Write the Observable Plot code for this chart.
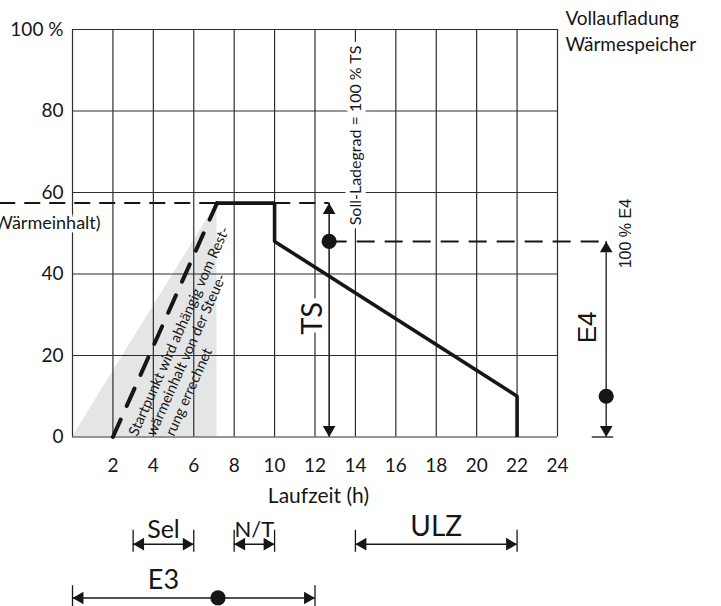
<!DOCTYPE html>
<html>
<head>
<meta charset="utf-8">
<script src="https://cdn.jsdelivr.net/npm/d3@7"></script>
<script src="https://cdn.jsdelivr.net/npm/@observablehq/plot@0.6"></script>
<style>
  body { margin: 0; background: #fff; }
  #chart svg { display: block; }
</style>
</head>
<body>
<div id="chart"></div>
<script>
// ---------- data ----------
const gridHours = [0, 2, 4, 6, 8, 10, 12, 14, 16, 18, 20, 22, 24];
const gridLevels = [0, 20, 40, 60, 80, 100];
const xTickValues = [2, 4, 6, 8, 10, 12, 14, 16, 18, 20, 22, 24];
const yTickValues = [0, 20, 40, 60, 80, 100];
const yTickLabels = ["0", "20", "40", "60", "80", "100 %"];

// charge profile (Laufzeit h, Ladegrad %)
const profileHours = [7.15, 10, 10, 22, 22];
const profileLevels = [57.4, 57.4, 48, 10, 0];
// start point line (dashed) and shaded start region
const startHours = [2, 7.15];
const startLevels = [0, 57.4];
const shadeHours = [0, 7.15];
const shadeLevels = [0, 57.4];

const targetLevel = 57.4;   // Soll-Ladegrad = 100 % TS
const e4FullLevel = 48;     // 100 % E4
const e4DotLevel = 10;
const tsHour = 12.7;
const e4Hour = 26.41;

// dimension spans (hours)
const spanNames = ["Sel", "N/T", "ULZ"];
const spanStart = [3, 8, 14];
const spanEnd = [6, 10, 22];
const e3Start = 0, e3End = 12, e3DotHour = 7.2;

const triangleLines = [
  "Startpunkt wird abhängig vom Rest-",
  "wärmeinhalt von der Steue-",
  "rung errechnet"
];

// ---------- layout helpers ----------
const humanist = "Lato, 'Open Sans', sans-serif";
const grotesk = "'Liberation Sans', Arial, sans-serif";
const ink = "#161616";
const dimRow = -26.3, dimTickTop = -22.9, dimTickBot = -28.3;
const e3Row = -39.5, e3TickTop = -36.5, e3TickBot = -41.6;

const profile = profileHours.map((h, i) => ({h, v: profileLevels[i]}));
const startLine = startHours.map((h, i) => ({h, v: startLevels[i]}));
const shade = shadeHours.map((h, i) => ({h, v: shadeLevels[i]}));
const spans = spanNames.map((name, i) => ({name, a: spanStart[i], b: spanEnd[i]}));

const HEAD = 7.3; // tip offset of triangle symbol
const head = (pts, rot, dx, dy) => Plot.dot(pts, {
  x: "h", y: "v", symbol: "triangle", r: 4.7, fill: ink, stroke: null,
  rotate: rot, dx, dy
});

const upHeads = [{h: tsHour, v: targetLevel}, {h: e4Hour, v: e4FullLevel}];
const downHeads = [{h: tsHour, v: 0}, {h: e4Hour, v: 0}];
const leftHeads = spans.map(s => ({h: s.a, v: dimRow})).concat([{h: e3Start, v: e3Row}]);
const rightHeads = spans.map(s => ({h: s.b, v: dimRow})).concat([{h: e3End, v: e3Row}]);

const chart = Plot.plot({
  width: 721,
  height: 606,
  marginLeft: 72,
  marginRight: 164,
  marginTop: 29,
  marginBottom: 169.5,
  style: {fontFamily: humanist, fontSize: "19px", color: ink, background: "#fff", overflow: "visible"},
  x: {
    domain: [0, 24],
    ticks: xTickValues, tickSize: 0, tickPadding: 21, label: null
  },
  y: {
    domain: [0, 100],
    ticks: yTickValues, tickSize: 0, tickPadding: 9, label: null,
    tickFormat: d => yTickLabels[yTickValues.indexOf(d)]
  },
  marks: [
    Plot.areaY(shade, {x: "h", y: "v", fill: "#e4e5e6"}),
    Plot.ruleX(gridHours, {y1: 0, y2: 100, stroke: "#2e2e2e", strokeWidth: 1.2}),
    Plot.ruleY(gridLevels, {x1: 0, x2: 24, stroke: "#2e2e2e", strokeWidth: 1.2}),
    // dashed reference lines
    Plot.ruleY([targetLevel], {x1: -3.6, x2: tsHour, stroke: ink, strokeWidth: 2, strokeDasharray: "16,9"}),
    Plot.ruleY([e4FullLevel], {x1: tsHour, x2: e4Hour, stroke: ink, strokeWidth: 2, strokeDasharray: "18,10"}),
    // start line and profile
    Plot.line(startLine, {x: "h", y: "v", stroke: ink, strokeWidth: 4, strokeDasharray: "19,15"}),
    Plot.line(profile, {x: "h", y: "v", stroke: ink, strokeWidth: 3.6, strokeLinejoin: "miter", strokeLinecap: "butt"}),
    // TS and E4 dimension arrows
    Plot.ruleX([tsHour], {y1: 0, y2: targetLevel, stroke: ink, strokeWidth: 1.5}),
    Plot.ruleX([e4Hour], {y1: 0, y2: e4FullLevel, stroke: "#333", strokeWidth: 1.5}),
    Plot.ruleY([0], {x1: 25.72, x2: 26.78, stroke: "#333", strokeWidth: 1.5}),
    // bottom dimension arrows
    Plot.ruleY(spans, {x1: "a", x2: "b", y: () => dimRow, stroke: ink, strokeWidth: 1.5}),
    Plot.ruleX(spans.flatMap(s => [s.a, s.b]), {y1: dimTickTop, y2: dimTickBot, stroke: ink, strokeWidth: 1.3}),
    Plot.ruleY([e3Row], {x1: e3Start, x2: e3End, stroke: ink, strokeWidth: 1.5}),
    Plot.ruleX([e3Start, e3End], {y1: e3TickTop, y2: e3TickBot, stroke: ink, strokeWidth: 1.3}),
    head(upHeads, 0, 0, HEAD),
    head(downHeads, 180, 0, -HEAD),
    head(leftHeads, -90, HEAD, 0),
    head(rightHeads, 90, -HEAD, 0),
    // dots
    Plot.dot([{h: tsHour, v: e4FullLevel}, {h: e4Hour, v: e4DotLevel}, {h: e3DotHour, v: e3Row}],
      {x: "h", y: "v", r: 7.6, fill: ink, stroke: null}),
    // rotated note inside shaded region
    Plot.text(triangleLines, {
      x: (d, i) => [3.2, 4.08, 5.02][i], y: () => 0, text: d => d,
      rotate: -66, textAnchor: "start", lineAnchor: "bottom",
      fontSize: 14.5, fontFamily: humanist, fill: ink
    }),
    // labels with white halo
    Plot.text(["Soll-Ladegrad = 100 % TS"], {x: () => 14.0, y: () => 74.0, rotate: -90,
      fontSize: 16, fontFamily: humanist, fill: ink, stroke: "white", strokeWidth: 9}),
    Plot.text(["Wärmeinhalt)"], {x: () => 1.39, y: () => 52.4, textAnchor: "end",
      fontSize: 18, fontFamily: humanist, fill: ink, stroke: "white", strokeWidth: 7}),
    Plot.text(["TS"], {x: () => 11.88, y: () => 29.1, rotate: -90,
      fontSize: 29, fontFamily: humanist, fill: ink, stroke: "white", strokeWidth: 10}),
    Plot.text(["E4"], {x: () => 25.47, y: () => 26.9, rotate: -90,
      fontSize: 26, fontFamily: grotesk, fill: ink}),
    Plot.text(["100 % E4"], {x: () => 27.36, y: () => 49.9, rotate: -90,
      fontSize: 16, fontFamily: grotesk, fill: ink}),
    Plot.text(["Vollaufladung", "Wärmespeicher"], {x: () => 24.39, y: (d, i) => [102.6, 96.1][i],
      textAnchor: "start", fontSize: 19, fontFamily: humanist, fill: ink}),
    Plot.text(["Laufzeit (h)"], {x: () => 12.17, y: () => -14.6, fontSize: 21, fontFamily: humanist, fill: ink}),
    Plot.text(spans, {x: s => (s.a + s.b) / 2, y: s => s.name === "ULZ" ? -22.1 : -22.8, text: "name",
      fontSize: s => s.name === "ULZ" ? 28 : s.name === "N/T" ? 22 : 25,
      fontFamily: s => s.name === "ULZ" ? grotesk : humanist, fill: ink}),
    Plot.text(["E3"], {x: () => 4.5, y: () => -35.3, fontSize: 27, fontFamily: humanist, fill: ink})
  ]
});
document.getElementById("chart").appendChild(chart);
</script>
</body>
</html>
